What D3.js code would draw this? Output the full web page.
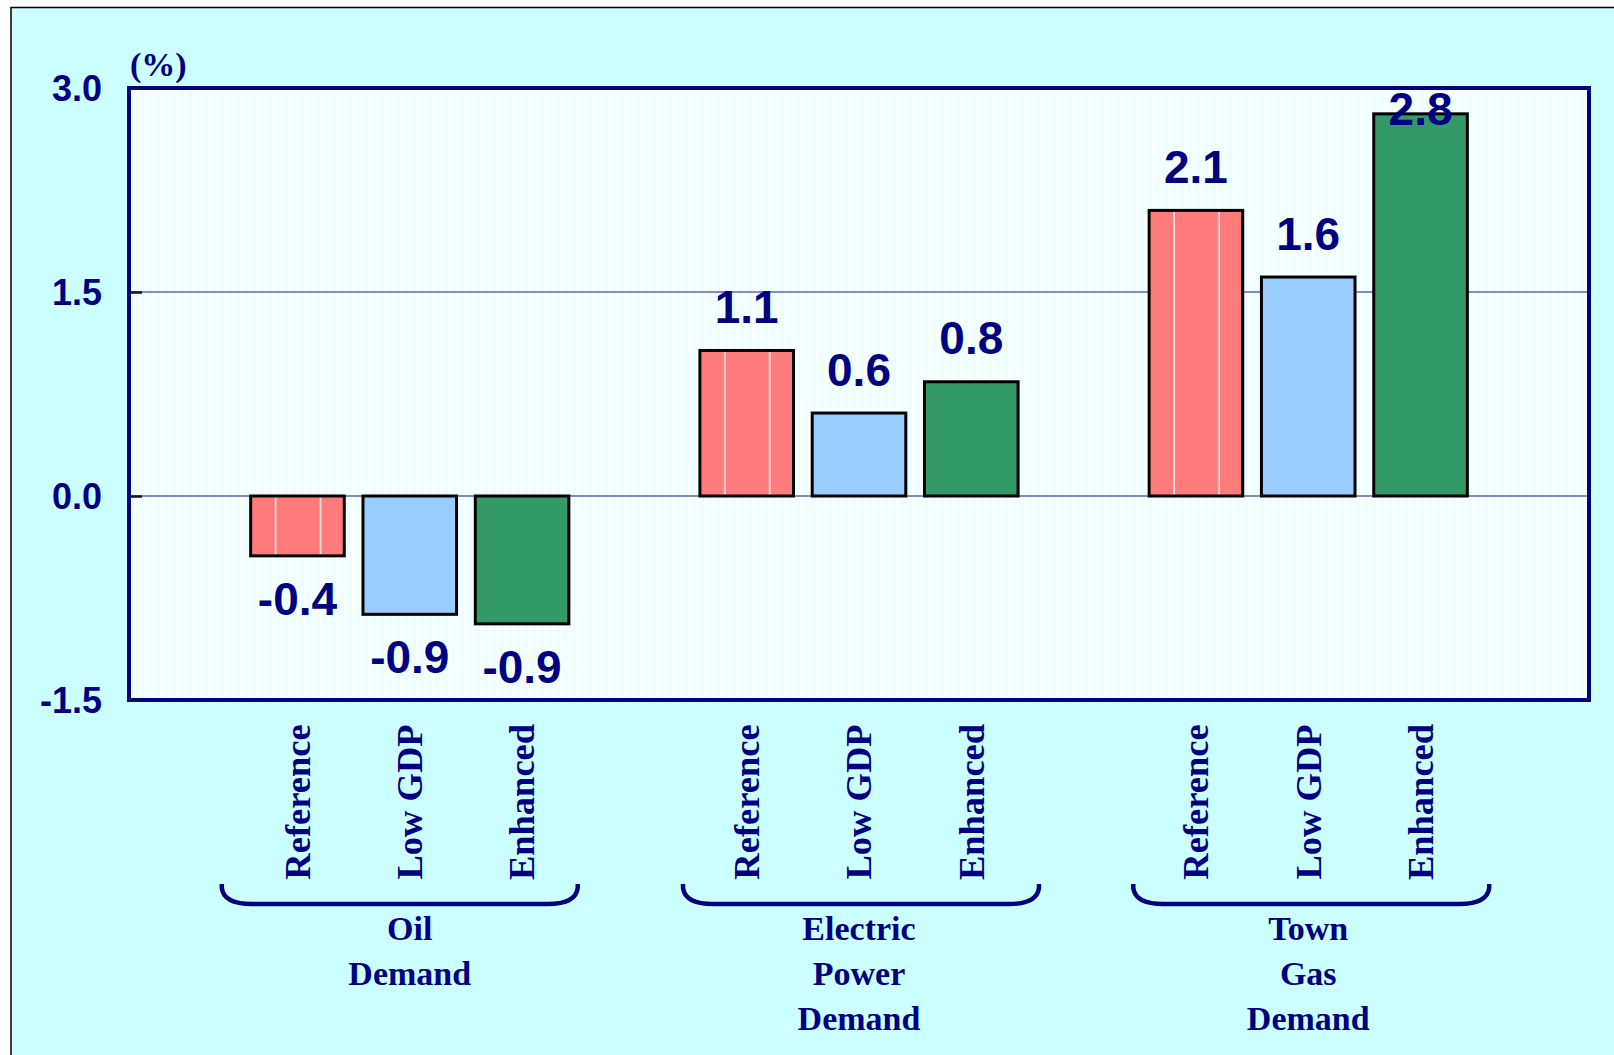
<!DOCTYPE html>
<html>
<head>
<meta charset="utf-8">
<script src="https://cdn.jsdelivr.net/npm/d3@7"></script>
<style>
  html, body { margin: 0; padding: 0; background: #ffffff; }
  svg { display: block; }
</style>
</head>
<body>
<div id="chart"></div>
<script>
// Annual growth of energy demand by scenario (%)
const groupKeys = ["oil", "electric", "townGas"];
const groupLabelLines = [
  ["Oil", "Demand"],
  ["Electric", "Power", "Demand"],
  ["Town", "Gas", "Demand"]
];
const scenarios = ["Reference", "Low GDP", "Enhanced"];
const referenceValues = [-0.44, 1.07, 2.10];
const lowGdpValues = [-0.87, 0.61, 1.61];
const enhancedValues = [-0.94, 0.84, 2.81];
const yTickValues = [-1.5, 0.0, 1.5, 3.0];

const seriesValues = [referenceValues, lowGdpValues, enhancedValues];

const width = 1614, height = 1055;
const plot = { left: 129, right: 1589, top: 88, bottom: 700 };
const navy = "#000080";
const sansBold = "'Liberation Sans', Arial, sans-serif";
const serifBold = "'Liberation Serif', 'Times New Roman', serif";
// hand-placed brackets sit slightly off their group centres
const bracketShift = { oil: -10, electric: 2, townGas: 3 };

const locale = d3.formatLocale({ decimal: ".", thousands: ",", grouping: [3], currency: ["", ""], minus: "-" });
const fmt = locale.format(".1f");

const svg = d3.select("#chart").append("svg")
  .attr("width", width).attr("height", height);

// Page background with its framing line
svg.append("rect")
  .attr("x", 11).attr("y", 7.5)
  .attr("width", width + 20).attr("height", height + 20)
  .attr("fill", "#CCFFFF")
  .attr("stroke", "#000").attr("stroke-width", 1.5);

const defs = svg.append("defs");

// Reference bars: salmon fill with two light vertical streaks
const refPat = defs.append("pattern")
  .attr("id", "refFill")
  .attr("patternUnits", "objectBoundingBox")
  .attr("patternContentUnits", "objectBoundingBox")
  .attr("width", 1).attr("height", 1);
refPat.append("rect").attr("width", 1).attr("height", 1).attr("fill", "#FF7B7B");
[0.26, 0.74].forEach(f => refPat.append("rect")
  .attr("x", f).attr("y", 0).attr("width", 0.014).attr("height", 1)
  .attr("fill", "#ffffff"));

// Plot-area background with faint vertical texture
const bgPat = defs.append("pattern")
  .attr("id", "plotBg")
  .attr("patternUnits", "userSpaceOnUse")
  .attr("width", 8).attr("height", 8);
bgPat.append("rect").attr("width", 8).attr("height", 8).attr("fill", "#EEFFFF");
bgPat.append("rect").attr("x", 0).attr("width", 3).attr("height", 8).attr("fill", "#F7FFFF");

svg.append("rect")
  .attr("x", plot.left).attr("y", plot.top)
  .attr("width", plot.right - plot.left).attr("height", plot.bottom - plot.top)
  .attr("fill", "url(#plotBg)");

// Scales
const y = d3.scaleLinear().domain([-1.5, 3.0]).range([plot.bottom, plot.top]);
const x0 = d3.scaleBand().domain(groupKeys)
  .range([plot.left, plot.right]).paddingInner(0.25).paddingOuter(0.25);
const x1 = d3.scaleBand().domain(scenarios)
  .range([0, x0.bandwidth()]).paddingInner(1 / 6).paddingOuter(1 / 12);

const fills = { "Reference": "url(#refFill)", "Low GDP": "#99CCFF", "Enhanced": "#339966" };

// Horizontal gridlines
svg.append("g").selectAll("line")
  .data(yTickValues.filter(v => v > -1.5 && v < 3.0))
  .join("line")
  .attr("x1", plot.left).attr("x2", plot.right)
  .attr("y1", d => y(d)).attr("y2", d => y(d))
  .attr("stroke", "#6262AE").attr("stroke-width", 1.5);

// Bars
const rows = [];
groupKeys.forEach((g, gi) => {
  scenarios.forEach((s, si) => rows.push({ group: g, scenario: s, value: seriesValues[si][gi] }));
});

const barG = svg.append("g");
barG.selectAll("rect")
  .data(rows)
  .join("rect")
  .attr("x", d => x0(d.group) + x1(d.scenario))
  .attr("width", x1.bandwidth())
  .attr("y", d => y(Math.max(0, d.value)))
  .attr("height", d => Math.abs(y(d.value) - y(0)))
  .attr("fill", d => fills[d.scenario])
  .attr("stroke", "#000").attr("stroke-width", 3);

// Value labels
const labelTopLimit = y(3.0) + 37;
svg.append("g").selectAll("text")
  .data(rows)
  .join("text")
  .attr("x", d => x0(d.group) + x1(d.scenario) + x1.bandwidth() / 2)
  .attr("y", d => d.value >= 0
    ? Math.max(y(d.value) - 27.5, labelTopLimit)
    : y(d.value) + 59)
  .attr("text-anchor", "middle")
  .attr("font-family", sansBold).attr("font-weight", "bold")
  .attr("font-size", 46).attr("fill", navy)
  .text(d => fmt(d.value));

// Frame of the plot area
svg.append("rect")
  .attr("x", plot.left).attr("y", plot.top)
  .attr("width", plot.right - plot.left).attr("height", plot.bottom - plot.top)
  .attr("fill", "none").attr("stroke", navy).attr("stroke-width", 4);

// Y axis with inward ticks
const yAxis = d3.axisLeft(y).tickValues(yTickValues).tickFormat(fmt)
  .tickSizeInner(-13).tickSizeOuter(0).tickPadding(27);
const yg = svg.append("g").attr("transform", `translate(${plot.left},0)`).call(yAxis);
yg.select(".domain").remove();
yg.selectAll(".tick line").attr("stroke", "#111133").attr("stroke-width", 2.5);
yg.selectAll(".tick text")
  .attr("font-family", sansBold).attr("font-weight", "bold")
  .attr("font-size", 36).attr("fill", navy).attr("dy", "0.36em");

// Unit label
svg.append("text")
  .attr("x", plot.left + 1).attr("y", 76)
  .attr("font-family", serifBold).attr("font-weight", "bold")
  .attr("font-size", 34).attr("fill", navy)
  .text("(%)");

// Scenario labels under each bar
svg.append("g").selectAll("text")
  .data(rows)
  .join("text")
  .attr("transform", d => `translate(${x0(d.group) + x1(d.scenario) + x1.bandwidth() / 2},802) rotate(-90)`)
  .attr("text-anchor", "middle")
  .attr("dy", "0.34em")
  .attr("font-family", serifBold).attr("font-weight", "bold")
  .attr("font-size", 36.5).attr("fill", navy)
  .text(d => d.scenario);

// Bracket under each group
const bracketTop = 884, bracketBottom = 904;
svg.append("g").selectAll("path")
  .data(groupKeys)
  .join("path")
  .attr("d", g => {
    const a = x0(g) - 9.5 + bracketShift[g], b = x0(g) + x0.bandwidth() + 9.5 + bracketShift[g];
    const p = d3.path();
    p.moveTo(a, bracketTop);
    p.lineTo(a, bracketTop + 4);
    p.quadraticCurveTo(a + 2, bracketBottom, a + 30, bracketBottom);
    p.lineTo(b - 30, bracketBottom);
    p.quadraticCurveTo(b - 2, bracketBottom, b, bracketTop + 4);
    p.lineTo(b, bracketTop);
    return p.toString();
  })
  .attr("fill", "none").attr("stroke", navy).attr("stroke-width", 4.5);

// Group names
const gl = svg.append("g").selectAll("text")
  .data(groupKeys)
  .join("text")
  .attr("text-anchor", "middle")
  .attr("font-family", serifBold).attr("font-weight", "bold")
  .attr("font-size", 34).attr("fill", navy);
gl.each(function (g, i) {
  const cx = x0(g) + x0.bandwidth() / 2;
  d3.select(this).selectAll("tspan")
    .data(groupLabelLines[i])
    .join("tspan")
    .attr("x", cx)
    .attr("y", (d, j) => 940 + j * 45)
    .text(d => d);
});
</script>
</body>
</html>
